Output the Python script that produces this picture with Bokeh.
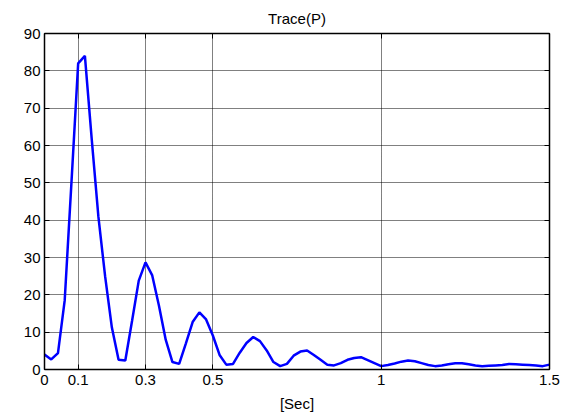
from bokeh.plotting import figure
from bokeh.models import LinearAxis, FixedTicker, Range1d, Title, Grid
from bokeh.embed import file_html
from bokeh.resources import INLINE

time_sec = [round(i * 0.02, 2) for i in range(76)]
trace_p = [
    4.0, 2.7, 4.4, 18.5, 50.0, 82.0, 84.0, 62.0, 41.0, 25.0,
    11.3, 2.6, 2.4, 13.0, 23.8, 28.7, 25.2, 17.1, 8.0, 2.0,
    1.5, 7.0, 12.7, 15.3, 13.4, 9.1, 3.9, 1.3, 1.5, 4.5,
    7.1, 8.7, 7.6, 5.1, 2.0, 0.9, 1.5, 3.7, 4.8, 5.1,
    3.9, 2.6, 1.3, 1.1, 1.7, 2.6, 3.1, 3.3, 2.5, 1.7,
    0.9, 1.2, 1.6, 2.1, 2.4, 2.2, 1.7, 1.2, 0.9, 1.1,
    1.4, 1.7, 1.7, 1.4, 1.1, 0.9, 1.0, 1.1, 1.2, 1.5,
    1.4, 1.3, 1.2, 1.1, 0.9, 1.3,
]
x_ticks = [0, 0.1, 0.3, 0.5, 1, 1.5]
y_ticks = [0, 10, 20, 30, 40, 50, 60, 70, 80, 90]
title_text = "Trace(P)"
x_label = "[Sec]"

FONT = "Liberation Sans"

p = figure(width=573, height=417, output_backend="svg", toolbar_location=None,
           x_range=Range1d(0, 1.5), y_range=Range1d(0, 90),
           x_axis_location=None, y_axis_location=None,
           min_border_left=44, min_border_right=24, min_border_top=33, min_border_bottom=48)
p.background_fill_color = "white"
p.border_fill_color = "white"
p.outline_line_color = "black"
p.outline_line_width = 1

p.title = Title(text=title_text, align="center", text_font=FONT,
                text_font_size="15px", text_font_style="normal", text_color="black",
                standoff=14)

def style(ax, ticks, labels=True):
    ax.ticker = FixedTicker(ticks=ticks)
    ax.axis_line_color = "black"
    ax.axis_line_width = 1.5
    ax.major_tick_in = 5
    ax.major_tick_out = 0
    ax.major_tick_line_color = "black"
    ax.minor_tick_line_color = None
    ax.major_label_text_font = FONT
    ax.major_label_text_font_size = "15px"
    ax.major_label_text_color = "black"
    ax.major_label_standoff = 4
    if not labels:
        ax.major_label_text_font_size = "1px"
        ax.major_label_text_color = None
        ax.major_label_standoff = 0

xb = LinearAxis()
style(xb, x_ticks)
xb.major_label_standoff = 5
xb.axis_label = x_label
xb.axis_label_text_font = FONT
xb.axis_label_text_font_size = "15px"
xb.axis_label_text_font_style = "normal"
xb.axis_label_text_color = "black"
xb.axis_label_standoff = 7
xb.major_label_overrides = {0: "0", 0.1: "0.1", 0.3: "0.3", 0.5: "0.5", 1: "1", 1.5: "1.5"}
p.add_layout(xb, "below")

xt = LinearAxis()
style(xt, x_ticks, labels=False)
p.add_layout(xt, "above")

yl = LinearAxis()
style(yl, y_ticks)
p.add_layout(yl, "left")

yr = LinearAxis()
style(yr, y_ticks, labels=False)
p.add_layout(yr, "right")

p.xgrid.visible = False
p.ygrid.visible = False
gx = Grid(dimension=0, ticker=FixedTicker(ticks=x_ticks), grid_line_color="black",
          grid_line_dash="1 1", grid_line_width=1)
gy = Grid(dimension=1, ticker=FixedTicker(ticks=y_ticks), grid_line_color="black",
          grid_line_dash="1 1", grid_line_width=1)
p.add_layout(gx)
p.add_layout(gy)

p.line(time_sec, trace_p, line_color="#0000FF", line_width=2.5)

open("out.html", "w").write(file_html(p, INLINE))
